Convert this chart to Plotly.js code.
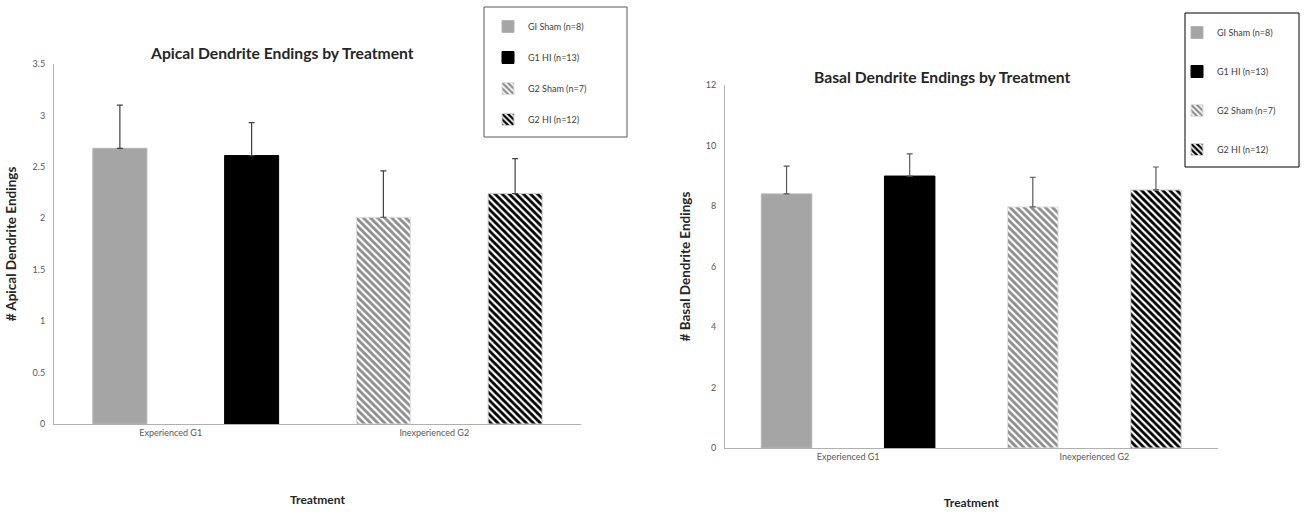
<!DOCTYPE html>
<html>
<head>
<meta charset="utf-8">
<script src="https://cdn.plot.ly/plotly-3.0.1.min.js"></script>
<style>html,body{margin:0;padding:0;background:#fff;}#chart{width:1306px;height:515px;}</style>
</head>
<body>
<div id="chart"></div>
<script>
const categories = ["Experienced G1", "Inexperienced G2"];
const seriesNames = ["GI Sham (n=8)", "G1 HI (n=13)", "G2 Sham (n=7)", "G2 HI (n=12)"];
const seriesCategory = [0, 0, 1, 1];
const apicalMeans = [2.68, 2.61, 2.01, 2.24];
const apicalErr = [0.42, 0.32, 0.45, 0.34];
const basalMeans = [8.40, 8.99, 7.97, 8.53];
const basalErr = [0.92, 0.73, 0.98, 0.76];
const yTicksApical = [0, 0.5, 1, 1.5, 2, 2.5, 3, 3.5];
const yTicksBasal = [0, 2, 4, 6, 8, 10, 12];

const FONT = "Lato, 'Open Sans', sans-serif";
const styles = [
  {color: "#a5a5a5", pattern: {shape: ""}, line: "#b5b5b5", group: "sham"},
  {color: "#000000", pattern: {shape: ""}, line: "#000000", group: "hi"},
  {color: "#8c8c8c", pattern: {shape: "\\", fgcolor: "#8c8c8c", bgcolor: "#ffffff", size: 5, solidity: 0.55, fillmode: "replace"}, line: "#e0e0e0", group: "sham"},
  {color: "#000000", pattern: {shape: "\\", fgcolor: "#000000", bgcolor: "#ffffff", size: 5, solidity: 0.55, fillmode: "replace"}, line: "#d0d0d0", group: "hi"}
];

function makeTraces(means, errs, xa, ya, legendName, errColor) {
  return seriesNames.map((name, i) => ({
    type: "bar",
    name: name,
    x: [categories[seriesCategory[i]]],
    y: [means[i]],
    xaxis: xa, yaxis: ya,
    offsetgroup: styles[i].group,
    legend: legendName,
    legendgroup: legendName + i,
    marker: {color: styles[i].color, pattern: styles[i].pattern, line: {color: styles[i].line, width: 1}},
    error_y: {type: "data", symmetric: false, array: [errs[i]], arrayminus: [0], color: errColor, thickness: 1.2, width: 3},
    hoverinfo: "y"
  }));
}

const data = makeTraces(apicalMeans, apicalErr, "x", "y", "legend", "#404040")
  .concat(makeTraces(basalMeans, basalErr, "x2", "y2", "legend2", "#595959"));

const tickFont = {family: FONT, size: 9, color: "#595959"};
const xTitleFont = {family: FONT, size: 12, color: "#262626", weight: "bold"};
const yTitleFont = {family: FONT, size: 13.5, color: "#262626", weight: "bold"};

const layout = {
  width: 1306, height: 515,
  margin: {l: 0, r: 0, t: 0, b: 0},
  paper_bgcolor: "#ffffff", plot_bgcolor: "#ffffff",
  barmode: "group", bargap: 0, bargroupgap: 0.59,
  font: {family: FONT},
  xaxis: {domain: [54/1306, 581/1306], anchor: "y", showgrid: false, showline: true, linecolor: "#b0b0b0", linewidth: 1,
          ticks: "", tickfont: tickFont, ticklabelshift: -15,
          title: {text: "Treatment", font: xTitleFont, standoff: 58}},
  yaxis: {domain: [1 - 424/515, 1 - 64/515], anchor: "x", range: [0, 3.5], tickvals: yTicksApical, ticktext: yTicksApical.map(String),
          showgrid: false, zeroline: false, showline: true, linecolor: "#b0b0b0", linewidth: 1, ticks: "", ticklabelstandoff: 6,
          tickfont: tickFont, title: {text: "# Apical Dendrite Endings", font: yTitleFont, standoff: 12}},
  xaxis2: {domain: [725/1306, 1217.5/1306], anchor: "y2", showgrid: false, showline: true, linecolor: "#b0b0b0", linewidth: 1,
          ticks: "", tickfont: tickFont,
          title: {text: "Treatment", font: xTitleFont, standoff: 37}},
  yaxis2: {domain: [1 - 448/515, 1 - 85/515], anchor: "x2", range: [0, 12], tickvals: yTicksBasal, ticktext: yTicksBasal.map(String),
          showgrid: false, zeroline: false, showline: true, linecolor: "#b0b0b0", linewidth: 1, ticks: "", ticklabelstandoff: 6,
          tickfont: tickFont, title: {text: "# Basal Dendrite Endings", font: yTitleFont, standoff: 12}},
  legend: {x: 488/1306, y: 1 - 12/515, xanchor: "left", yanchor: "top", bgcolor: "rgba(0,0,0,0)", borderwidth: 0,
           font: {family: FONT, size: 9, color: "#404040"}, tracegroupgap: 12, itemwidth: 30},
  legend2: {x: 1177/1306, y: 1 - 18/515, xanchor: "left", yanchor: "top", bgcolor: "rgba(0,0,0,0)", borderwidth: 0,
           font: {family: FONT, size: 9, color: "#404040"}, tracegroupgap: 20, itemwidth: 30},
  shapes: [
    {type: "rect", xref: "paper", yref: "paper", x0: 484/1306, x1: 627/1306, y0: 1 - 137/515, y1: 1 - 7/515, line: {color: "#595959", width: 1}},
    {type: "rect", xref: "paper", yref: "paper", x0: 1185/1306, x1: 1299/1306, y0: 1 - 167/515, y1: 1 - 13/515, line: {color: "#000000", width: 1}}
  ],
  annotations: [
    {text: "Apical Dendrite Endings by Treatment", xref: "paper", yref: "paper", x: 282/1306, y: 1 - 53/515, showarrow: false,
     xanchor: "center", yanchor: "middle", font: {family: FONT, size: 15.7, color: "#262626", weight: "bold"}},
    {text: "Basal Dendrite Endings by Treatment", xref: "paper", yref: "paper", x: 942/1306, y: 1 - 77/515, showarrow: false,
     xanchor: "center", yanchor: "middle", font: {family: FONT, size: 15.7, color: "#262626", weight: "bold"}}
  ],
  showlegend: true
};

Plotly.newPlot("chart", data, layout, {displayModeBar: false, staticPlot: true});
</script>
</body>
</html>
